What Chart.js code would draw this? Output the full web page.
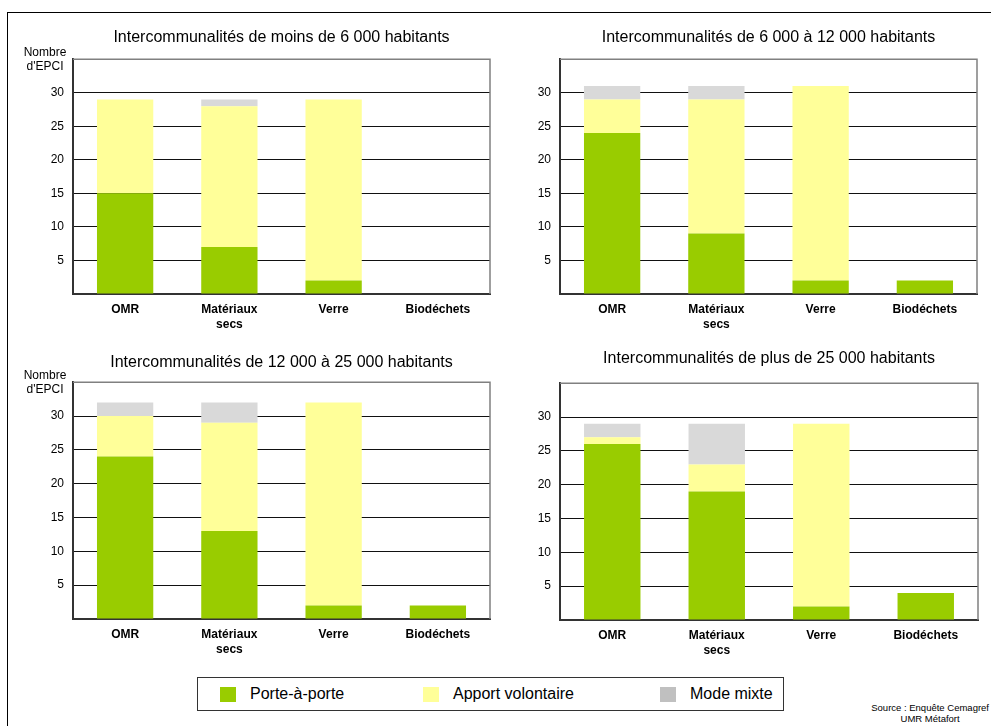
<!DOCTYPE html>
<html lang="fr">
<head>
<meta charset="UTF-8">
<title>Modes de collecte par taille d'intercommunalité</title>
<script src="https://cdn.jsdelivr.net/npm/chart.js"></script>
<style>
    body { margin: 0; width: 991px; height: 726px; position: relative; overflow: hidden; background: #fff;
           font-family: "Liberation Sans", Arial, sans-serif; }
    #frame { position: absolute; left: 7px; top: 12px; width: 990px; height: 720px;
             border-top: 1px solid #000; border-left: 1px solid #000; }
    .panel { position: absolute; }
    #legend { position: absolute; left: 197px; top: 677px; width: 587px; height: 34px;
              border: 1px solid #333; box-sizing: border-box; }
    .item { position: absolute; top: 0; height: 32px; line-height: 32px; font-size: 16px; color: #000; white-space: nowrap; }
    .item span { position: absolute; left: 0; top: 9px; width: 16px; height: 15px; }
    .item b { font-weight: normal; margin-left: 30px; }
    #source { position: absolute; right: 2px; top: 702px; font-size: 9.5px; line-height: 11px; text-align: center; color: #000; }
</style>
</head>
<body>
<div id="frame"></div>
<canvas id="c0" class="panel"></canvas>
<canvas id="c1" class="panel"></canvas>
<canvas id="c2" class="panel"></canvas>
<canvas id="c3" class="panel"></canvas>
<div id="legend"></div>
<div id="source">Source : Enquête Cemagref<br>UMR Métafort</div>
<script>
    // données
    const categories = ['OMR', ['Matériaux', 'secs'], 'Verre', 'Biodéchets'];
    const titles = [
        'Intercommunalités de moins de 6 000 habitants',
        'Intercommunalités de 6 000 à 12 000 habitants',
        'Intercommunalités de 12 000 à 25 000 habitants',
        'Intercommunalités de plus de 25 000 habitants',
    ];
    const seriesNames = ['Porte-à-porte', 'Apport volontaire', 'Mode mixte'];
    const porteAPorte      = [[15, 7, 2, 0], [24, 9, 2, 2], [24, 13, 2, 2], [26, 19, 2, 4]];
    const apportVolontaire = [[14, 21, 27, 0], [5, 20, 29, 0], [6, 16, 30, 0], [1, 4, 27, 0]];
    const modeMixte        = [[0, 1, 0, 0], [2, 2, 0, 0], [2, 3, 0, 0], [2, 6, 0, 0]];
    const yTicks = [5, 10, 15, 20, 25, 30];

    const colors = ['#99CC00', '#FFFF99', '#D9D9D9'];
    const legendColors = ['#99CC00', '#FFFF99', '#C0C0C0'];

    // position des 4 graphiques
    const layout = [
        {left: 10,  top: 20,  w: 485, h: 320, tp: {top: 8, bottom: 12}, yLabel: true},
        {left: 497, top: 20,  w: 485, h: 320, tp: {top: 8, bottom: 12}, yLabel: false},
        {left: 10,  top: 345, w: 485, h: 320, tp: {top: 8, bottom: 10}, yLabel: true},
        {left: 497, top: 345, w: 486, h: 321, tp: {top: 4, bottom: 15}, yLabel: false},
    ];

    const framePlugin = {
        id: 'frame',
        beforeDatasetsDraw(chart) {
            const a = chart.chartArea, ctx = chart.ctx;
            ctx.save();
            ctx.strokeStyle = '#808080';
            ctx.lineWidth = 1.5;
            ctx.beginPath();
            ctx.moveTo(a.left, a.top);
            ctx.lineTo(a.right, a.top);
            ctx.lineTo(a.right, a.bottom);
            ctx.stroke();
            ctx.restore();
        },
        afterDraw(chart, args, opts) {
            if (!opts.yLabel) return;
            const a = chart.chartArea, ctx = chart.ctx;
            ctx.save();
            ctx.fillStyle = '#000';
            ctx.font = '12px "Liberation Sans", Arial, sans-serif';
            ctx.textAlign = 'center';
            ctx.textBaseline = 'middle';
            ctx.fillText('Nombre', a.left - 28, a.top - 7);
            ctx.fillText("d'EPCI", a.left - 28, a.top + 7);
            ctx.restore();
        }
    };

    layout.forEach(function (p, i) {
        const cv = document.getElementById('c' + i);
        cv.width = p.w;
        cv.height = p.h;
        cv.style.left = p.left + 'px';
        cv.style.top = p.top + 'px';

        const values = [porteAPorte[i], apportVolontaire[i], modeMixte[i]];
        new Chart(cv, {
            type: 'bar',
            data: {
                labels: categories,
                datasets: values.map((v, k) => ({
                    label: seriesNames[k],
                    data: v,
                    backgroundColor: colors[k],
                    borderWidth: 0,
                    categoryPercentage: 1,
                    barPercentage: 0.54,
                })),
            },
            plugins: [framePlugin],
            options: {
                responsive: false,
                animation: false,
                layout: {padding: {left: 0, right: 5, top: 0, bottom: 0}},
                plugins: {
                    legend: {display: false},
                    tooltip: {enabled: false},
                    frame: {yLabel: p.yLabel},
                    title: {
                        display: true,
                        text: titles[i],
                        fullSize: false,
                        color: '#000',
                        font: {family: '"Liberation Sans", Arial, sans-serif', size: 16, weight: 'normal', lineHeight: 1.2},
                        padding: p.tp,
                    },
                },
                scales: {
                    x: {
                        stacked: true,
                        grid: {display: false, drawTicks: false},
                        border: {display: true, color: '#333', width: 2},
                        ticks: {
                            color: '#000',
                            padding: 8,
                            maxRotation: 0,
                            font: {family: '"Liberation Sans", Arial, sans-serif', size: 12, weight: 'bold', lineHeight: 1.25},
                        },
                        afterFit: s => { s.height = 46; },
                    },
                    y: {
                        stacked: true,
                        min: 0,
                        max: 35,
                        grid: {
                            drawTicks: false,
                            lineWidth: 1,
                            color: c => c.tick && c.tick.value === 35 ? '#808080' : '#111',
                        },
                        border: {display: true, color: '#333', width: 2},
                        ticks: {
                            stepSize: 5,
                            padding: 9,
                            color: '#000',
                            font: {family: '"Liberation Sans", Arial, sans-serif', size: 12},
                            callback: v => yTicks.includes(v) ? v : '',
                        },
                        afterFit: s => { s.width = 63; },
                    },
                },
            },
        });
    });

    // légende
    const legendX = [22, 225, 462];
    const legend = document.getElementById('legend');
    seriesNames.forEach(function (name, k) {
        const d = document.createElement('div');
        d.className = 'item';
        d.style.left = legendX[k] + 'px';
        d.innerHTML = '<span style="background:' + legendColors[k] + '"></span><b>' + name + '</b>';
        legend.appendChild(d);
    });
</script>
</body>
</html>
